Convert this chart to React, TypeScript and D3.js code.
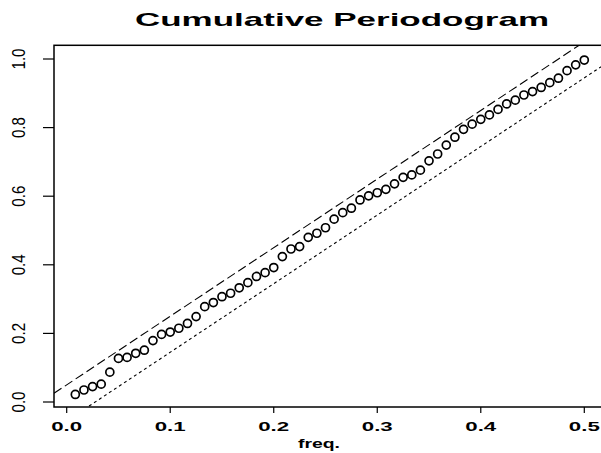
import React from "react";
import * as d3 from "d3";

const freqIndex: number[] = d3.range(1, 61);
const cumValues: number[] = [
  0.022, 0.035, 0.045, 0.052, 0.087, 0.127, 0.130, 0.142, 0.151, 0.179,
  0.197, 0.204, 0.215, 0.229, 0.249, 0.278, 0.290, 0.307, 0.317, 0.333,
  0.348, 0.366, 0.377, 0.392, 0.424, 0.446, 0.453, 0.480, 0.492, 0.508,
  0.533, 0.552, 0.565, 0.589, 0.601, 0.610, 0.620, 0.636, 0.655, 0.662,
  0.676, 0.703, 0.723, 0.749, 0.772, 0.795, 0.810, 0.824, 0.837, 0.853,
  0.869, 0.880, 0.895, 0.905, 0.917, 0.931, 0.944, 0.966, 0.983, 0.997,
];
const xTicks: number[] = [0, 0.1, 0.2, 0.3, 0.4, 0.5];
const yTicks: number[] = [0, 0.2, 0.4, 0.6, 0.8, 1.0];
const upperIntercept = 0.05;
const lowerIntercept = -0.055;
const bandSlope = 2;
const title = "Cumulative  Periodogram";
const xLabel = "freq.";

export default function App() {
  const W = 601, H = 453;
  const x = d3.scaleLinear().domain([0, 0.5]).range([66.7, 584.3]);
  const y = d3.scaleLinear().domain([0, 1]).range([402, 59]);
  const boxL = 54, boxR = 606, boxT = 45.3, boxB = 407;
  const xl = x.invert(boxL), xr = x.invert(boxR);
  const freqs = freqIndex.map((k) => k / 120);
  const line = d3.line<[number, number]>().x((d) => x(d[0])).y((d) => y(d[1]));
  const band = (b: number) => line([[xl, b + bandSlope * xl], [xr, b + bandSlope * xr]]) || "";
  const font = "'Liberation Sans', Arial, sans-serif";
  return (
    <svg width={W} height={H} style={{ position: "absolute", left: 0, top: 0, background: "#fff" }}>
      <defs>
        <clipPath id="plotclip">
          <rect x={boxL} y={boxT} width={boxR - boxL} height={boxB - boxT} />
        </clipPath>
      </defs>
      <rect x={0} y={0} width={W} height={H} fill="#fff" />
      <text x={342} y={26} textAnchor="middle" fontFamily={font} fontWeight="bold" fontSize={19}
        textLength={414} lengthAdjust="spacingAndGlyphs" fill="#000">{title}</text>
      <g clipPath="url(#plotclip)">
        <path d={band(upperIntercept)} fill="none" stroke="#000" strokeWidth={1.1} strokeDasharray="9,4" />
        <path d={band(lowerIntercept)} fill="none" stroke="#000" strokeWidth={1.1} strokeDasharray="3,3" />
        {freqs.map((f, i) => (
          <circle key={i} cx={x(f)} cy={y(cumValues[i])} r={4} fill="none" stroke="#000" strokeWidth={1.7} />
        ))}
      </g>
      <rect x={boxL} y={boxT} width={boxR - boxL} height={boxB - boxT} fill="none" stroke="#000" strokeWidth={1.5} />
      {xTicks.map((t) => (
        <g key={"x" + t}>
          <line x1={x(t)} x2={x(t)} y1={boxB} y2={boxB + 6} stroke="#000" strokeWidth={1.2} />
          <text x={x(t)} y={431} textAnchor="middle" fontFamily={font} fontWeight="bold" fontSize={12.5}
            textLength={31} lengthAdjust="spacingAndGlyphs" fill="#000">{t.toFixed(1)}</text>
        </g>
      ))}
      {yTicks.map((t) => (
        <g key={"y" + t}>
          <line x1={boxL - 11} x2={boxL} y1={y(t)} y2={y(t)} stroke="#000" strokeWidth={1.2} />
          <text transform={`translate(${25},${y(t)}) rotate(-90)`} textAnchor="middle" fontFamily={font}
            fontSize={18} textLength={21} lengthAdjust="spacingAndGlyphs" fill="#000">{t.toFixed(1)}</text>
        </g>
      ))}
      <text x={319} y={448} textAnchor="middle" fontFamily={font} fontWeight="bold" fontSize={13}
        textLength={42} lengthAdjust="spacingAndGlyphs" fill="#000">{xLabel}</text>
    </svg>
  );
}
